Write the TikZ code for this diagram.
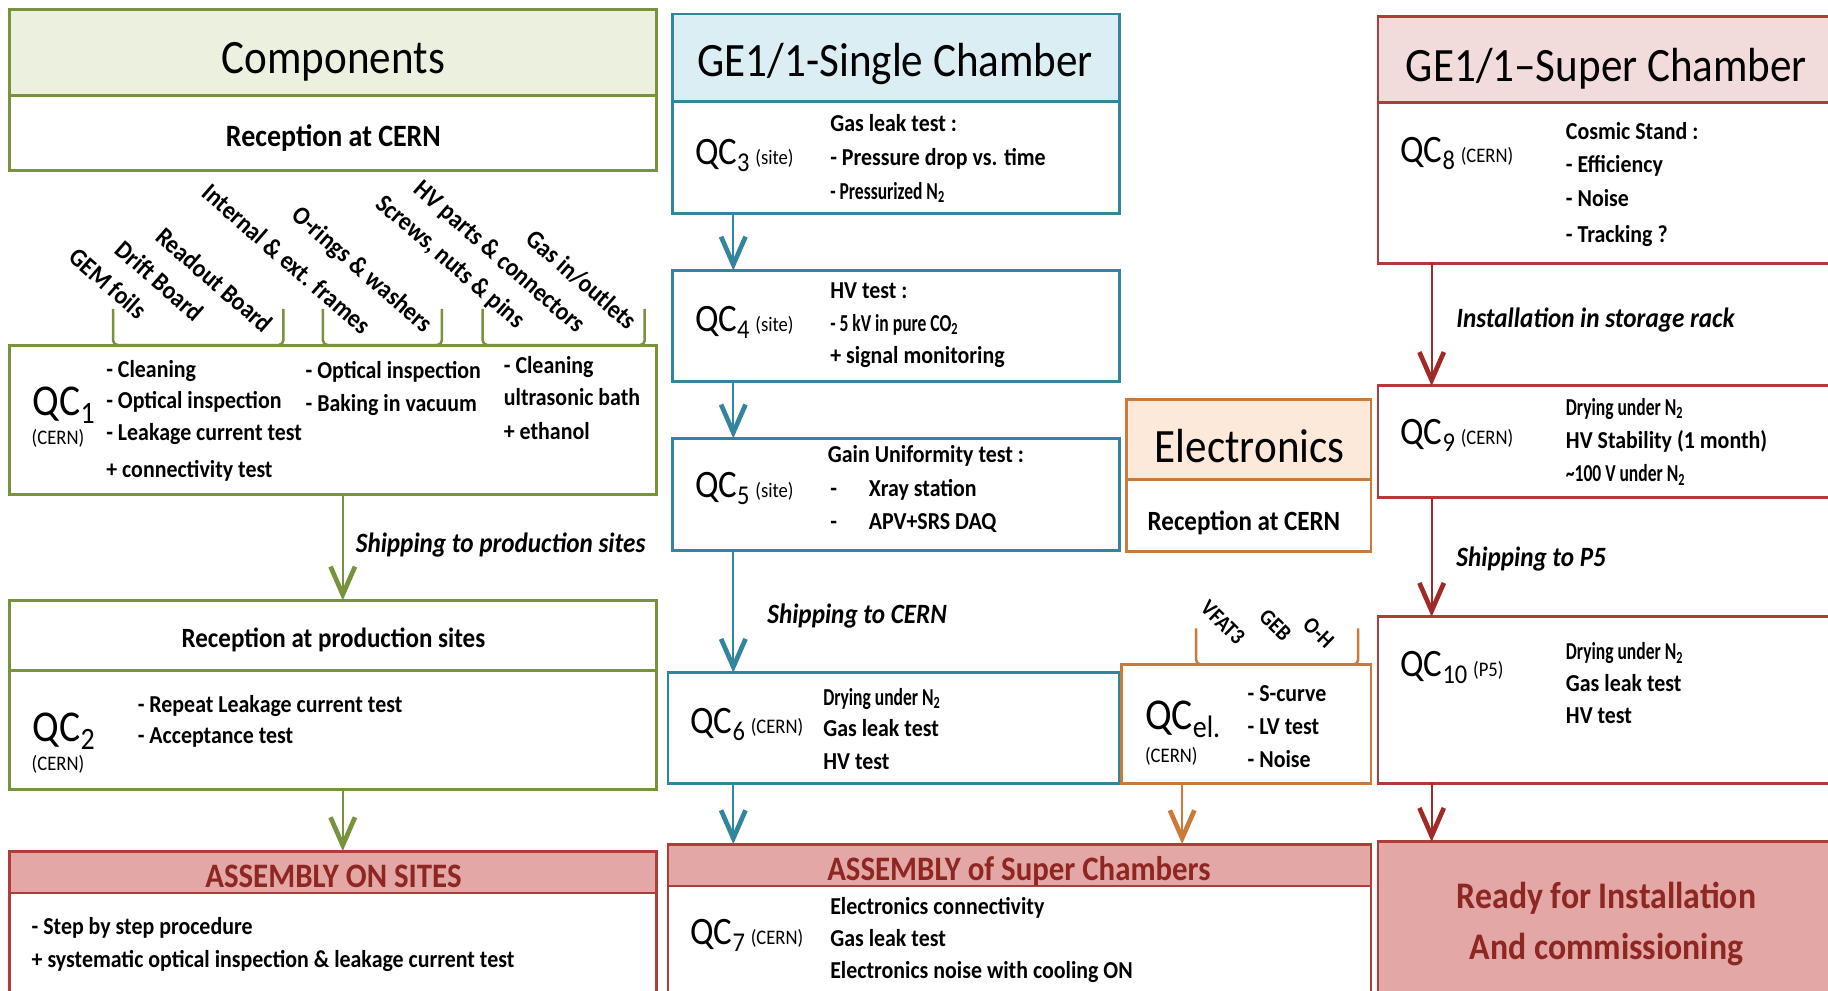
\documentclass[tikz,border=0pt]{standalone}
\usepackage{fontspec}
\setmainfont{Carlito}[FakeStretch=0.9]
\usepackage{graphicx}
\usetikzlibrary{arrows.meta}

\definecolor{olive}{HTML}{77933C}
\definecolor{olivefill}{HTML}{EBF1DE}
\definecolor{tealc}{HTML}{31859C}
\definecolor{tealfill}{HTML}{DBEEF4}
\definecolor{orng}{HTML}{CB7A3A}
\definecolor{orngfill}{HTML}{FDE9D9}
\definecolor{redc}{HTML}{B03C38}
\definecolor{redarrow}{HTML}{9E2B26}
\definecolor{redfill}{HTML}{F2DCDB}
\definecolor{asmfill}{HTML}{E3A7A5}
\definecolor{redtext}{HTML}{8E2622}

% narrow, tall lettering: the face is condensed, so sizes are raised
\newcommand\setfs[1]{\fontsize{\fpeval{1.11*#1}}{\fpeval{1.11*#1}}\selectfont}
% QC label with index and site on one line
\newcommand\QCin[2]{{\setfs{30}QC}\raisebox{-6pt}{\setfs{21}#1}\hspace{5pt}{\setfs{16}#2}}
% larger QC label, site written underneath
\newcommand\QCbig[1]{{\setfs{34}QC}\raisebox{-7pt}{\setfs{24}#1}}
% condensed line
\newcommand\sqz[1]{\scalebox{0.8}[1]{#1}}
% box from (x1,y1) to (x2,y2)
\newcommand\mkbox[6]{\node[#6,minimum width={(#4)-(#2)},minimum height={(#5)-(#3)}] (#1) at (#2,#3) {};}

\tikzset{
  cbox/.style={draw, line width=2.5pt, anchor=north west, inner sep=0pt, outer sep=0pt, fill=white},
  gbox/.style={cbox, draw=olive},
  tbox/.style={cbox, draw=tealc},
  obox/.style={cbox, draw=orng},
  rbox/.style={cbox, draw=redc},
  bodytext/.style={anchor=base west, inner sep=0pt, font=\setfs{18.8}\bfseries},
  flowlabel/.style={anchor=base west, inner sep=0pt, font=\setfs{21.6}\bfseries\itshape},
  ttltext/.style={anchor=base, inner sep=0pt, font=\setfs{37}},
  rectext/.style={anchor=base, inner sep=0pt, font=\setfs{21.5}\bfseries},
  asmtext/.style={anchor=base, inner sep=0pt, font=\setfs{26.5}\bfseries, text=redtext},
  qclabel/.style={anchor=base west, inner sep=0pt},
  loctext/.style={anchor=base west, inner sep=0pt, font=\setfs{16}},
  parttext/.style={inner sep=0pt, font=\setfs{20}\bfseries, rotate=-41},
  eparttext/.style={inner sep=0pt, font=\setfs{17.5}\bfseries, rotate=-44},
  bracket/.style={line width=2.2pt, rounded corners=4pt},
  flowarrow/.style={line width=1.9pt, -{Straight Barb[length=24pt,width=21pt,line width=4pt]}},
  garr/.style={flowarrow, draw=olive},
  tarr/.style={flowarrow, draw=tealc},
  oarr/.style={flowarrow, draw=orng},
  rarr/.style={flowarrow, draw=redarrow},
}

\begin{document}
\begin{tikzpicture}[x=1pt,y=-1pt]
\useasboundingbox (0,0) rectangle (1568,850);
\clip (0,0) rectangle (1568,850);
\fill[white] (0,0) rectangle (1568,850);

% ---------------- Components column ----------------
\mkbox{comp}{8}{8}{563}{82}{gbox, fill=olivefill}
\mkbox{rcern}{8}{82}{563}{146}{gbox}
\mkbox{qc1}{8}{296}{563}{424}{gbox}
\mkbox{rps}{8}{515}{563}{575}{gbox}
\mkbox{qc2}{8}{575}{563}{677}{gbox}
\mkbox{asmA}{8}{730}{563}{766}{rbox, fill=asmfill}
\mkbox{asmAb}{8}{766}{563}{870}{rbox}

% ---------------- Single chamber column ----------------
\mkbox{sgl}{577}{12}{960}{87}{tbox, fill=tealfill}
\mkbox{qc3}{577}{87}{960}{183}{tbox}
\mkbox{qc4}{577}{232}{960}{327}{tbox}
\mkbox{qc5}{577}{376}{960}{472}{tbox}
\mkbox{qc6}{573}{577}{960}{672}{tbox}
\mkbox{asmB}{573}{724}{1176}{760}{rbox, fill=asmfill}
\mkbox{qc7}{573}{760}{1176}{870}{rbox}

% ---------------- Electronics column ----------------
\mkbox{elec}{966}{343}{1176}{411}{obox, fill=orngfill}
\mkbox{ercern}{966}{411}{1176}{473}{obox}
\mkbox{qcel}{962}{570}{1176}{672}{obox}

% ---------------- Super chamber column ----------------
\mkbox{sup}{1182}{14}{1590}{88}{rbox, fill=redfill}
\mkbox{qc8}{1182}{88}{1590}{226}{rbox}
\mkbox{qc9}{1182}{331}{1590}{427}{rbox}
\mkbox{qc10}{1182}{529}{1590}{672}{rbox}
\mkbox{ready}{1182}{722}{1590}{870}{rbox, fill=asmfill}

% ---------------- flow arrows ----------------
\coordinate (gx) at (294,0);
\draw[garr] (qc1.south -| gx) -- (rps.north -| gx);
\draw[garr] (qc2.south -| gx) -- (asmA.north -| gx);
\coordinate (tx) at (629,0);
\draw[tarr] (qc3.south -| tx) -- (qc4.north -| tx);
\draw[tarr] (qc4.south -| tx) -- (qc5.north -| tx);
\draw[tarr] (qc5.south -| tx) -- (qc6.north -| tx);
\draw[tarr] (qc6.south -| tx) -- (asmB.north -| tx);
\coordinate (ox) at (1014,0);
\draw[oarr] (qcel.south -| ox) -- (asmB.north -| ox);
\coordinate (rx) at (1228,0);
\draw[rarr] (qc8.south -| rx) -- (qc9.north -| rx);
\draw[rarr] (qc9.south -| rx) -- (qc10.north -| rx);
\draw[rarr] (qc10.south -| rx) -- (ready.north -| rx);

% ---------------- component brackets and parts ----------------
\draw[bracket, olive] (97,265) |- (243,296) -- (243,265);
\draw[bracket, olive] (277,265) |- (379,296) -- (379,265);
\draw[bracket, olive] (414,265) |- (553,296) -- (553,265);
\node[parttext] (p1) at (93,243) {GEM foils};
\node[parttext] (p2) at (137,241) {Drift Board};
\node[parttext] (p3) at (184,240) {Readout Board};
\node[parttext] (p4) at (246,222) {Internal \& ext. frames};
\node[parttext] (p5) at (310,232) {O-rings \& washers};
\node[parttext] (p6) at (386,225) {Screws, nuts \& pins};
\node[parttext] (p7) at (428,221) {HV parts \& connectors};
\node[parttext] (p8) at (499,240) {Gas in/outlets};

% ---------------- Components texts ----------------
\node[ttltext] (tcomp) at (286,63) {Components};
\node[rectext, font=\setfs{24}\bfseries] (trc) at (286,126) {Reception at CERN};

\node[qclabel] (lq1) at (28,356) {\QCbig{1}};
\node[loctext] (lq1s) at (27,381) {(CERN)};
\node[bodytext] (a1) at (91,324) {- Cleaning};
\node[bodytext] (a2) at (91,350) {- Optical inspection};
\node[bodytext] (a3) at (91,378) {- Leakage current test};
\node[bodytext] (a4) at (91,410) {+ connectivity test};
\node[bodytext] (b1) at (262,325) {- Optical inspection};
\node[bodytext] (b2) at (262,353) {- Baking in vacuum};
\node[bodytext] (c1) at (432,320) {- Cleaning};
\node[bodytext] (c2) at (432,348) {ultrasonic bath};
\node[bodytext] (c3) at (432,377) {+ ethanol};

\node[flowlabel] (ship1) at (305,474) {Shipping to production sites};
\node[rectext] (trps) at (286,555) {Reception at production sites};

\node[qclabel] (lq2) at (28,636) {\QCbig{2}};
\node[loctext] (lq2s) at (27,661) {(CERN)};
\node[bodytext] (d1) at (118,611) {- Repeat Leakage current test};
\node[bodytext] (d2) at (118,638) {- Acceptance test};

\node[asmtext] (tasmA) at (286,761) {ASSEMBLY ON SITES};
\node[bodytext] (e1) at (27,802) {- Step by step procedure};
\node[bodytext] (e2) at (27,830) {+ systematic optical inspection \& leakage current test};

% ---------------- Single chamber texts ----------------
\node[ttltext] (tsgl) at (768,66) {GE1/1-Single Chamber};

\node[qclabel] (lq3) at (596,141) {\QCin{3}{(site)}};
\node[bodytext] (f1) at (712,113) {Gas leak test :};
\node[bodytext] (f2) at (712,142) {- Pressure drop vs. time};
\node[bodytext] (f3) at (712,171) {\sqz{- Pressurized N\textsubscript{2}}};

\node[qclabel] (lq4) at (596,284) {\QCin{4}{(site)}};
\node[bodytext] (g1) at (712,256) {HV test :};
\node[bodytext] (g2) at (712,284) {\sqz{- 5 kV in pure CO\textsubscript{2}}};
\node[bodytext] (g3) at (712,312) {+ signal monitoring};

\node[qclabel] (lq5) at (596,427) {\QCin{5}{(site)}};
\node[bodytext] (h1) at (710,397) {Gain Uniformity test :};
\node[bodytext] (h2) at (712,426) {-};
\node[bodytext] (h3) at (745,426) {Xray station};
\node[bodytext] (h4) at (712,454) {-};
\node[bodytext] (h5) at (745,454) {APV+SRS DAQ};

\node[flowlabel] (ship2) at (658,535) {Shipping to CERN};

\node[qclabel] (lq6) at (592,629) {\QCin{6}{(CERN)}};
\node[bodytext] (i1) at (706,605) {\sqz{Drying under N\textsubscript{2}}};
\node[bodytext] (i2) at (706,632) {Gas leak test};
\node[bodytext] (i3) at (706,660) {HV test};

\node[asmtext] (tasmB) at (874,755) {ASSEMBLY of Super Chambers};
\node[qclabel] (lq7) at (592,810) {\QCin{7}{(CERN)}};
\node[bodytext] (j1) at (712,784) {Electronics connectivity};
\node[bodytext] (j2) at (712,812) {Gas leak test};
\node[bodytext] (j3) at (712,839) {Electronics noise with cooling ON};

% ---------------- Electronics texts ----------------
\node[ttltext] (telec) at (1072,397) {Electronics};
\node[rectext] (terc) at (1067,455) {Reception at CERN};
\draw[bracket, orng] (1026,539) |- (1165,570) -- (1165,539);
\node[eparttext] (v1) at (1049,534) {VFAT3};
\node[eparttext] (v2) at (1094,536) {GEB};
\node[eparttext] (v3) at (1131,543) {O-H};
\node[qclabel] (lqe) at (982,626) {{\setfs{34}QC}\raisebox{-7pt}{\setfs{24}el.}};
\node[loctext] (lqes) at (982,654) {(CERN)};
\node[bodytext] (k1) at (1070,602) {- S-curve};
\node[bodytext] (k2) at (1070,630) {- LV test};
\node[bodytext] (k3) at (1070,658) {- Noise};

% ---------------- Super chamber texts ----------------
\node[ttltext] (tsup) at (1378,70) {GE1/1--Super Chamber};

\node[qclabel] (lq8) at (1201,139) {\QCin{8}{(CERN)}};
\node[bodytext] (m1) at (1343,120) {Cosmic Stand :};
\node[bodytext] (m2) at (1343,148) {- Efficiency};
\node[bodytext] (m3) at (1343,177) {- Noise};
\node[bodytext] (m4) at (1343,208) {- Tracking ?};

\node[flowlabel] (ship3) at (1249,281) {Installation in storage rack};

\node[qclabel] (lq9) at (1201,381) {\QCin{9}{(CERN)}};
\node[bodytext] (n1) at (1343,356) {\sqz{Drying under N\textsubscript{2}}};
\node[bodytext] (n2) at (1343,385) {HV Stability (1 month)};
\node[bodytext] (n3) at (1343,413) {\sqz{\textasciitilde100 V under N\textsubscript{2}}};

\node[flowlabel] (ship4) at (1249,486) {Shipping to P5};

\node[qclabel] (lq10) at (1201,580) {\QCin{10}{(P5)}};
\node[bodytext] (o1) at (1343,566) {\sqz{Drying under N\textsubscript{2}}};
\node[bodytext] (o2) at (1343,593) {Gas leak test};
\node[bodytext] (o3) at (1343,621) {HV test};

\node[asmtext, font=\setfs{29}\bfseries] (tr1) at (1378,779) {Ready for Installation};
\node[asmtext, font=\setfs{29}\bfseries] (tr2) at (1378,823) {And commissioning};
\end{tikzpicture}
\end{document}
